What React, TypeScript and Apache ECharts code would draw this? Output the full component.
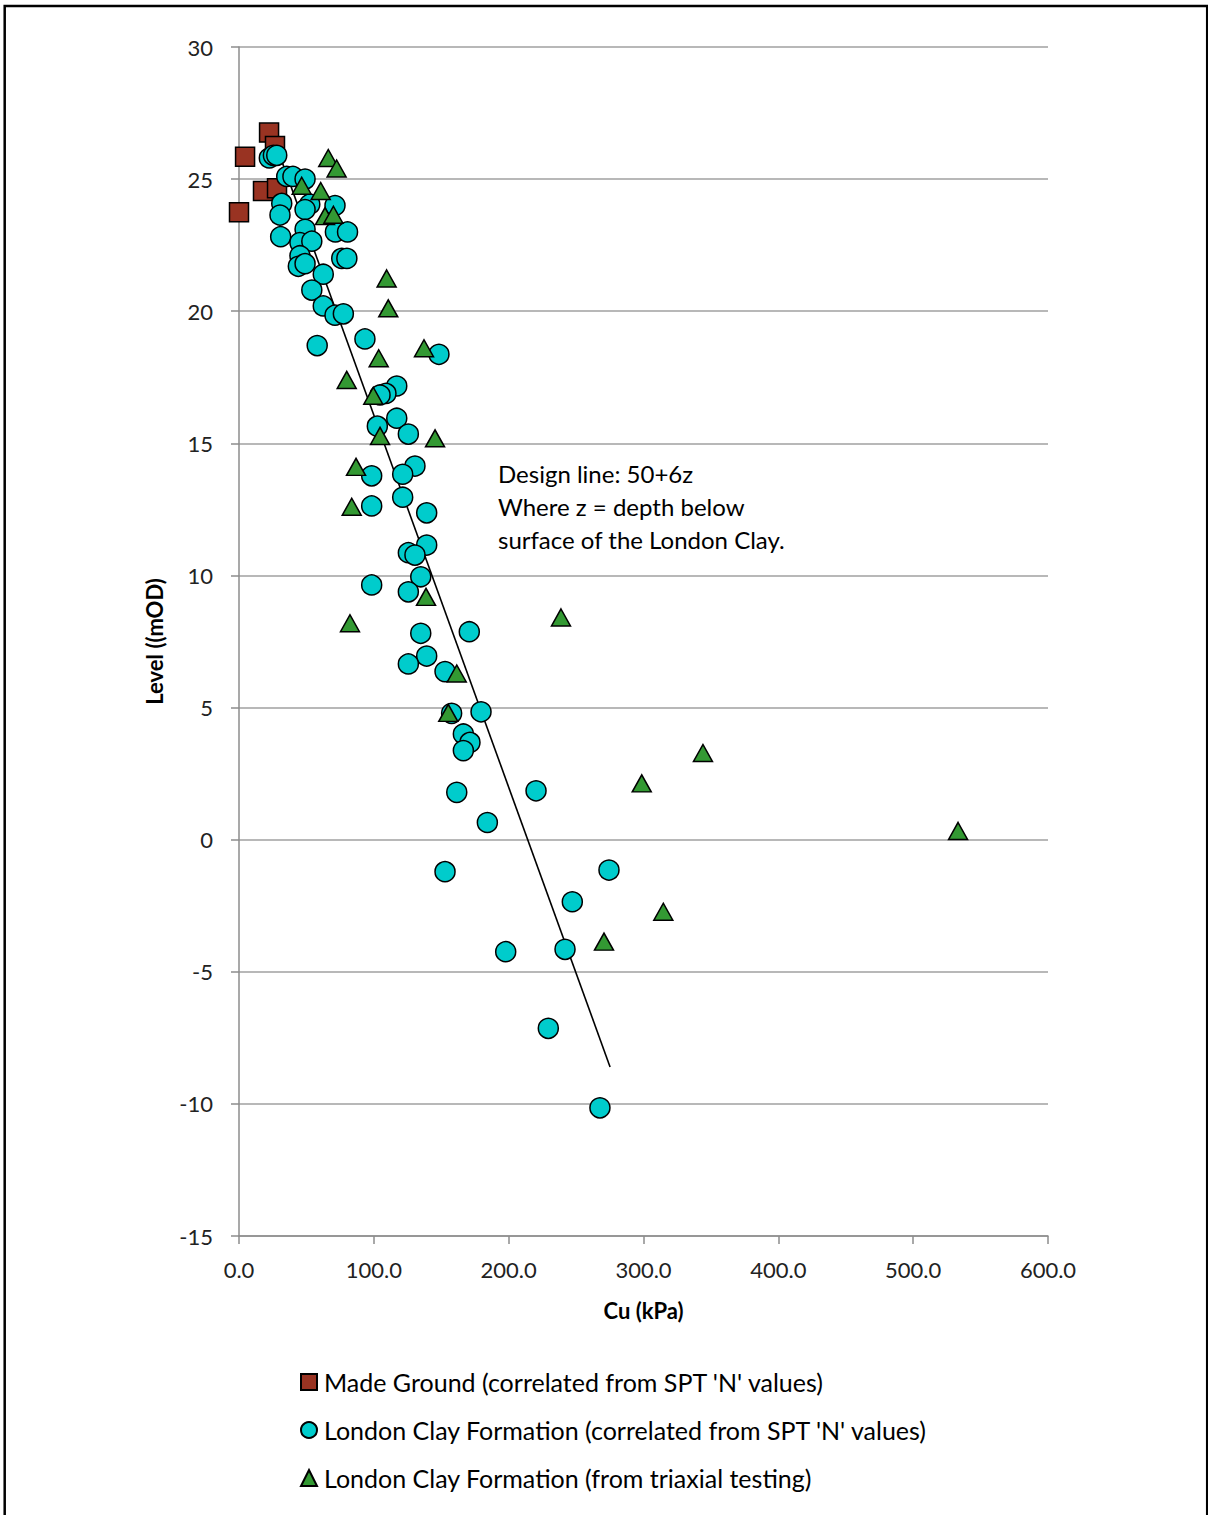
import React, { useEffect, useRef } from "react";
import * as echarts from "echarts";

const madeGround: number[][] = [
  [22.3, 26.76], [26.7, 26.25], [4.5, 25.85], [17.8, 24.55], [28.2, 24.65], [0, 23.75],
];

const londonClaySPT: number[][] = [
  [22.5, 25.8], [25.5, 25.9], [28, 25.9],
  [35.4, 25.1], [40, 25.1], [49, 25.0],
  [31.7, 24.08], [30.4, 23.64], [52.5, 24.05], [49, 23.85], [71.2, 24.0],
  [30.9, 22.82], [49, 23.1], [45.2, 22.6], [54, 22.65], [71.5, 23.0], [80.5, 23.0],
  [45.2, 22.1], [44, 21.7], [49, 21.8], [76.2, 22.0], [80, 22.0], [62.5, 21.4],
  [54, 20.8], [62.5, 20.2], [71.2, 19.85], [77.4, 19.9], [93.4, 18.95], [58, 18.7], [148.3, 18.37],
  [117, 17.17], [109, 16.89], [104.6, 16.83], [102.6, 15.65], [117, 15.95], [125.6, 15.35],
  [130.5, 14.14], [121.4, 13.83], [98.4, 13.77], [121.4, 12.96], [98.4, 12.63], [139.2, 12.37],
  [139.2, 11.15], [125.6, 10.86], [130.5, 10.77], [134.8, 9.95], [98.4, 9.64], [125.6, 9.38],
  [134.8, 7.81], [170.8, 7.87], [139.2, 6.95], [125.6, 6.65], [152.8, 6.36],
  [157.7, 4.78], [179.5, 4.84], [166.4, 4.0], [171.3, 3.68], [166.4, 3.37],
  [161.5, 1.79], [220.3, 1.85], [184.2, 0.65],
  [152.8, -1.21], [274.4, -1.15], [247.2, -2.35], [197.8, -4.24], [241.8, -4.15],
  [229.4, -7.14], [267.7, -10.15],
];

const londonClayTriaxial: number[][] = [
  [66.2, 25.8], [72.4, 25.4], [46.5, 24.75], [60.6, 24.55], [63.8, 23.6], [70, 23.65],
  [109.5, 21.24], [110.7, 20.11], [137.2, 18.6], [103.6, 18.22], [79.9, 17.4], [99.6, 16.8],
  [104.6, 15.28], [145.4, 15.19], [86.8, 14.11], [83.6, 12.6], [138.7, 9.19], [82.3, 8.19],
  [238.8, 8.41], [161.5, 6.29], [155.2, 4.8], [298.7, 2.13], [344.1, 3.28], [533.3, 0.33],
  [314.7, -2.73], [270.7, -3.86],
];

const designLine: number[][] = [
  [30.4, 25.87], [275.2, -8.6],
];

const seriesNames = [
  "Made Ground (correlated from SPT 'N' values)",
  "London Clay Formation (correlated from SPT 'N' values)",
  "London Clay Formation (from triaxial testing)",
];

const annotationLines = [
  "Design line: 50+6z",
  "Where z = depth below",
  "surface of the London Clay.",
];

const FONT = "Lato, 'Open Sans', sans-serif";

export default function App() {
  const ref = useRef<HTMLDivElement>(null);
  useEffect(() => {
    if (!ref.current) return;
    const chart = echarts.init(ref.current, undefined, { renderer: "svg" });
    const gridColor = "#8c8c8c";
    chart.setOption({
      animation: false,
      backgroundColor: "#ffffff",
      textStyle: { fontFamily: FONT },
      grid: { left: 239, top: 47, width: 809, height: 1189 },
      xAxis: {
        type: "value",
        min: 0,
        max: 600,
        interval: 100,
        name: "Cu (kPa)",
        nameLocation: "middle",
        nameGap: 63,
        nameTextStyle: { fontSize: 22, fontWeight: "bold", color: "#000", fontFamily: FONT },
        axisLine: { show: true, onZero: false, lineStyle: { color: gridColor, width: 1.5 } },
        axisTick: { show: true, length: 8, lineStyle: { color: gridColor, width: 1.5 } },
        axisLabel: {
          fontSize: 22, color: "#222", margin: 22, fontFamily: FONT,
          formatter: (v: number) => v.toFixed(1),
        },
        splitLine: { show: false },
      },
      yAxis: {
        type: "value",
        min: -15,
        max: 30,
        interval: 5,
        name: "Level ((mOD)",
        nameLocation: "middle",
        nameGap: 74,
        nameTextStyle: { fontSize: 22, fontWeight: "bold", color: "#000", fontFamily: FONT },
        axisLine: { show: true, onZero: false, lineStyle: { color: gridColor, width: 1.5 } },
        axisTick: { show: true, length: 8, lineStyle: { color: gridColor, width: 1.5 } },
        axisLabel: { fontSize: 22, color: "#222", margin: 26, fontFamily: FONT },
        splitLine: { show: true, lineStyle: { color: "#a0a0a0", width: 1.5 } },
      },
      legend: {
        orient: "vertical",
        left: 300,
        top: 1369,
        padding: 0,
        itemWidth: 16,
        itemHeight: 16,
        itemGap: 22,
        data: seriesNames,
        textStyle: { fontSize: 25, lineHeight: 26, color: "#000", fontFamily: FONT, padding: [0, 0, 0, 2] },
      },
      graphic: [
        {
          type: "rect",
          silent: true,
          z: -10,
          shape: { x: 4.7, y: 6, width: 1202.5, height: 1530 },
          style: { fill: "none", stroke: "#000", lineWidth: 2.5 },
        },
        {
          type: "text",
          left: 498,
          top: 457,
          style: {
            text: annotationLines.join("\n"),
            fontSize: 24,
            lineHeight: 33,
            fill: "#000",
            fontFamily: FONT,
          },
        },
      ],
      series: [
        {
          name: "Design line",
          type: "line",
          data: designLine,
          showSymbol: false,
          symbol: "none",
          lineStyle: { color: "#000", width: 1.6 },
          z: 1,
        },
        {
          name: seriesNames[0],
          type: "scatter",
          data: madeGround,
          symbol: "rect",
          symbolSize: 19,
          itemStyle: { color: "#993322", borderColor: "#000", borderWidth: 1.5, opacity: 1 },
          z: 2,
        },
        {
          name: seriesNames[1],
          type: "scatter",
          data: londonClaySPT,
          symbol: "circle",
          symbolSize: 20,
          itemStyle: { color: "#00cccc", borderColor: "#000", borderWidth: 1.5, opacity: 1 },
          z: 3,
        },
        {
          name: seriesNames[2],
          type: "scatter",
          data: londonClayTriaxial,
          symbol: "triangle",
          symbolSize: [19, 17],
          itemStyle: { color: "#339933", borderColor: "#000", borderWidth: 1.5, opacity: 1 },
          z: 4,
        },
      ],
    });
    return () => chart.dispose();
  }, []);
  return (
    <div
      ref={ref}
      style={{ position: "absolute", left: 0, top: 0, width: 1208, height: 1515 }}
    />
  );
}
